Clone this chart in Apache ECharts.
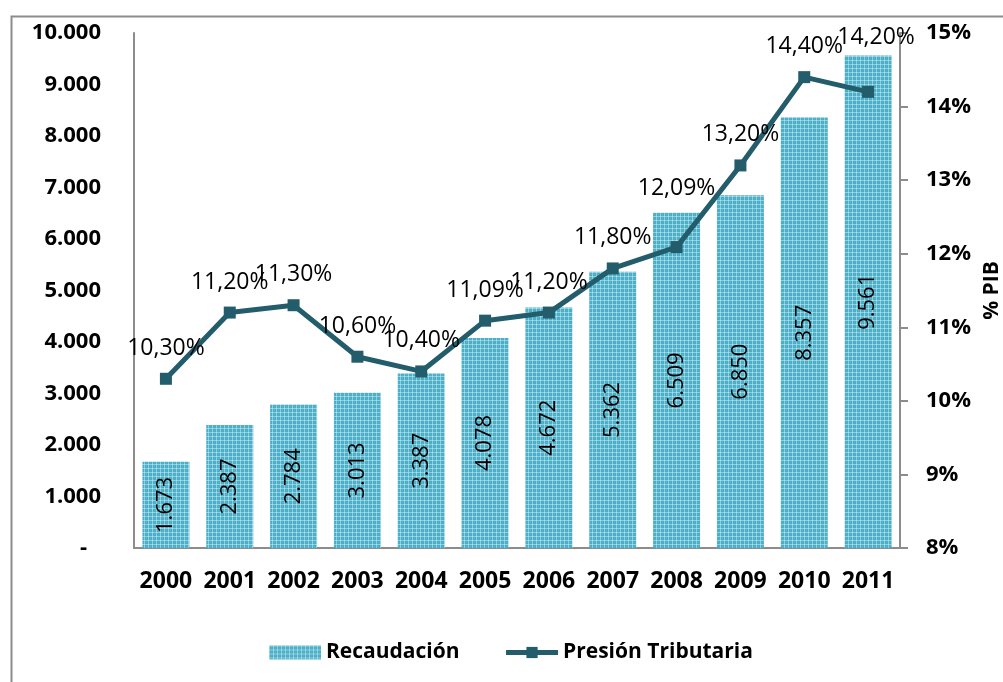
<!DOCTYPE html>
<html>
<head>
<meta charset="utf-8">
<script src="https://cdn.jsdelivr.net/npm/echarts@6/dist/echarts.min.js"></script>
<style>html,body{margin:0;padding:0;background:#fff;overflow:hidden}#c{width:1003px;height:682px}</style>
</head>
<body>
<div id="c"></div>
<script>
var years = ['2000','2001','2002','2003','2004','2005','2006','2007','2008','2009','2010','2011'];
var recaudacion = [1673, 2387, 2784, 3013, 3387, 4078, 4672, 5362, 6509, 6850, 8357, 9561];
var presion = [10.30, 11.20, 11.30, 10.60, 10.40, 11.09, 11.20, 11.80, 12.09, 13.20, 14.40, 14.20];
var leftTicks = [0, 1000, 2000, 3000, 4000, 5000, 6000, 7000, 8000, 9000, 10000];
var rightTicks = [8, 9, 10, 11, 12, 13, 14, 15];

// label offsets (style only)
var pctLabelOffsets = {8: [0, -28], 11: [8, -24]};

function fmtThousands(v) {
  return String(Math.round(v)).replace(/\B(?=(\d{3})+(?!\d))/g, '.');
}
function fmtPct(v) {
  return v.toFixed(2).replace('.', ',') + '%';
}

// bar pattern
var pc = document.createElement('canvas');
pc.width = 4; pc.height = 4;
var g = pc.getContext('2d');
g.fillStyle = '#4cadc6'; g.fillRect(0, 0, 4, 4);
g.fillStyle = '#8ccfdf';
g.fillRect(0, 0, 4, 1);
g.fillRect(0, 0, 1, 4);
g.fillStyle = '#b4e0ea';
g.fillRect(0, 0, 1, 1);
g.fillStyle = '#58b4cb';
g.fillRect(2, 2, 1, 1);
var barPattern = {image: pc, repeat: 'repeat'};

var FONT = '"Open Sans", "Noto Sans", sans-serif';
var lineColor = '#235d6b';

var chart = echarts.init(document.getElementById('c'), null, {renderer: 'canvas'});
var lineData = presion.map(function (v, i) {
  var d = {value: v};
  if (pctLabelOffsets[i]) d.label = {offset: pctLabelOffsets[i]};
  return d;
});
chart.setOption({
  animation: false,
  backgroundColor: '#ffffff',
  textStyle: {fontFamily: FONT},
  graphic: [{
    type: 'rect', left: 9, top: 14, z: -10,
    shape: {width: 1100, height: 1000},
    style: {fill: 'none', stroke: '#8c8c8c', lineWidth: 2}
  }],
  grid: {left: 134, right: 103, top: 33, bottom: 134, containLabel: false, outerBoundsMode: 'none'},
  legend: {
    left: 264, top: 637,
    itemWidth: 52, itemHeight: 14, itemGap: 44,
    textStyle: {fontFamily: FONT, fontSize: 21, fontWeight: 'bold', color: '#000'},
    data: [
      {name: 'Recaudación', icon: 'rect', itemStyle: {color: barPattern}},
      {name: 'Presión Tributaria', lineStyle: {width: 5, color: lineColor}}
    ]
  },
  xAxis: {
    type: 'category', data: years,
    axisLine: {lineStyle: {color: '#8c8c8c', width: 2}},
    axisTick: {show: false},
    axisLabel: {interval: 0, color: '#000', fontFamily: FONT, fontSize: 23, fontWeight: 'bold', margin: 22}
  },
  yAxis: [{
    type: 'value', min: 0, max: 10000, interval: 1000,
    axisLine: {show: true, lineStyle: {color: '#8c8c8c', width: 2}},
    axisTick: {show: false},
    splitLine: {show: false},
    axisLabel: {
      color: '#000', fontFamily: FONT, fontSize: 22, fontWeight: 'bold', margin: 33,
      formatter: function (v) { return v === 0 ? '{d|-}' : fmtThousands(v); },
      rich: {d: {color: '#000', fontFamily: FONT, fontSize: 22, fontWeight: 'bold', padding: [0, 14, 0, 0]}}
    }
  }, {
    type: 'value', min: 8, max: 15, interval: 1, position: 'right',
    name: '% PIB', nameLocation: 'middle', nameGap: 82, nameRotate: 90,
    nameTextStyle: {color: '#000', fontFamily: FONT, fontSize: 21, fontWeight: 'bold'},
    axisLine: {show: true, lineStyle: {color: '#8c8c8c', width: 2}},
    axisTick: {show: true, length: 8, lineStyle: {color: '#8c8c8c', width: 2}},
    splitLine: {show: false},
    axisLabel: {
      color: '#000', fontFamily: FONT, fontSize: 22, fontWeight: 'bold', margin: 26,
      formatter: function (v) { return Math.round(v) + '%'; }
    }
  }],
  series: [{
    name: 'Recaudación', type: 'bar', yAxisIndex: 0,
    data: recaudacion, barWidth: 47,
    itemStyle: {color: barPattern},
    label: {
      show: true, position: 'inside', rotate: 90,
      color: '#000', fontFamily: FONT, fontSize: 22,
      formatter: function (p) { return fmtThousands(p.value); }
    }
  }, {
    name: 'Presión Tributaria', type: 'line', yAxisIndex: 1,
    data: lineData,
    lineStyle: {color: lineColor, width: 5},
    itemStyle: {color: lineColor},
    symbol: 'rect', symbolSize: 12,
    label: {
      show: true, position: 'top', distance: 13,
      color: '#000', fontFamily: FONT, fontSize: 23,
      formatter: function (p) { return fmtPct(p.value); }
    }
  }]
});
</script>
</body>
</html>
